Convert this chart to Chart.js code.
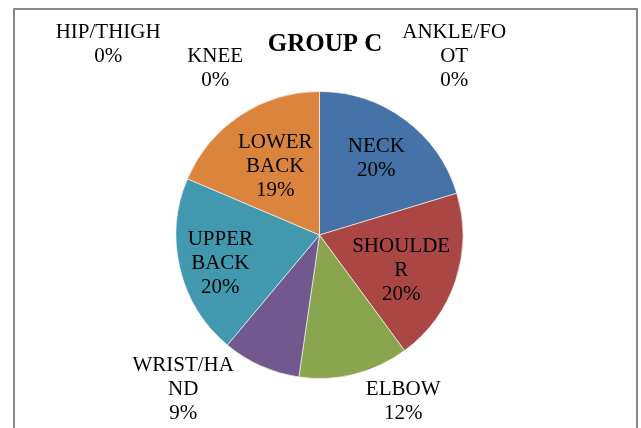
<!DOCTYPE html>
<html lang="en">
<head>
<meta charset="UTF-8">
<title>Group C</title>
<style>
  body { margin: 0; background: #fff; }
  #wrap { width: 641px; height: 428px; }
</style>
</head>
<body>
<div id="wrap">
  <canvas id="pieChart" width="641" height="428"></canvas>
</div>

<script src="https://cdn.jsdelivr.net/npm/chart.js@4/dist/chart.umd.min.js"></script>
<script>
  // values (percent of group C)
  const parts = ['NECK', 'SHOULDER', 'ELBOW', 'WRIST/HAND', 'UPPER BACK', 'LOWER BACK', 'HIP/THIGH', 'KNEE', 'ANKLE/FOOT'];
  const shares = [20.3, 19.6, 12.4, 8.8, 20.3, 18.6, 0, 0, 0];
  const sliceColors = ['#4572A7', '#AA4643', '#89A54E', '#71588F', '#4198AF', '#DB843D', '#6E8EC0', '#C46E6B', '#A3BD72'];

  // how each label wraps, like the original
  const labelLines = [
    ['NECK'], ['SHOULDE', 'R'], ['ELBOW'], ['WRIST/HA', 'ND'], ['UPPER', 'BACK'],
    ['LOWER', 'BACK'], ['HIP/THIGH'], ['KNEE'], ['ANKLE/FO', 'OT']
  ];
  // label spot: distance in radii, turn in degrees from the slice middle
  const labelSpots = [
    [0.665, 0], [0.62, 5], [1.30, -12.6], [1.436, 17.3], [0.72, -2.75],
    [0.57, 0.7], [1.985, -47.9], [1.372, -32], [1.556, 37.1]
  ];

  const fontFace = '"Liberation Serif", "Times New Roman", serif';

  const sliceLabels = {
    id: 'sliceLabels',
    beforeDraw(chart) {
      const ctx = chart.ctx;
      ctx.save();
      ctx.strokeStyle = '#888888';
      ctx.lineWidth = 2;
      ctx.strokeRect(14, 9, 623, 440);
      ctx.restore();
    },
    afterDraw(chart) {
      const ctx = chart.ctx;
      const total = shares.reduce((a, b) => a + b, 0);
      ctx.save();
      ctx.fillStyle = '#000';
      ctx.textAlign = 'center';
      ctx.textBaseline = 'middle';

      ctx.font = 'bold 25px ' + fontFace;
      ctx.fillText('GROUP C', 325, 45);

      ctx.font = '21px ' + fontFace;
      chart.getDatasetMeta(0).data.forEach((arc, i) => {
        const p = arc.getProps(['x', 'y', 'startAngle', 'endAngle', 'outerRadius'], true);
        const mid = (p.startAngle + p.endAngle) / 2 + labelSpots[i][1] * Math.PI / 180;
        const d = p.outerRadius * labelSpots[i][0];
        const cx = p.x + Math.cos(mid) * d;
        const cy = p.y + Math.sin(mid) * d;
        const lines = labelLines[i].concat([Math.round(shares[i] / total * 100) + '%']);
        const lh = 24;
        const top = cy - (lines.length - 1) * lh / 2;
        lines.forEach((t, k) => ctx.fillText(t, cx, top + k * lh));
      });
      ctx.restore();
    }
  };

  new Chart(document.getElementById('pieChart'), {
    type: 'pie',
    data: {
      labels: parts,
      datasets: [{
        data: shares,
        backgroundColor: sliceColors,
        borderColor: 'rgba(255,255,255,0.6)',
        borderWidth: 1
      }]
    },
    options: {
      responsive: false,
      animation: false,
      layout: { padding: { top: 91, bottom: 49, left: 0, right: 2 } },
      plugins: {
        legend: { display: false },
        title: { display: false },
        tooltip: { enabled: false }
      }
    },
    plugins: [sliceLabels]
  });
</script>
</body>
</html>
